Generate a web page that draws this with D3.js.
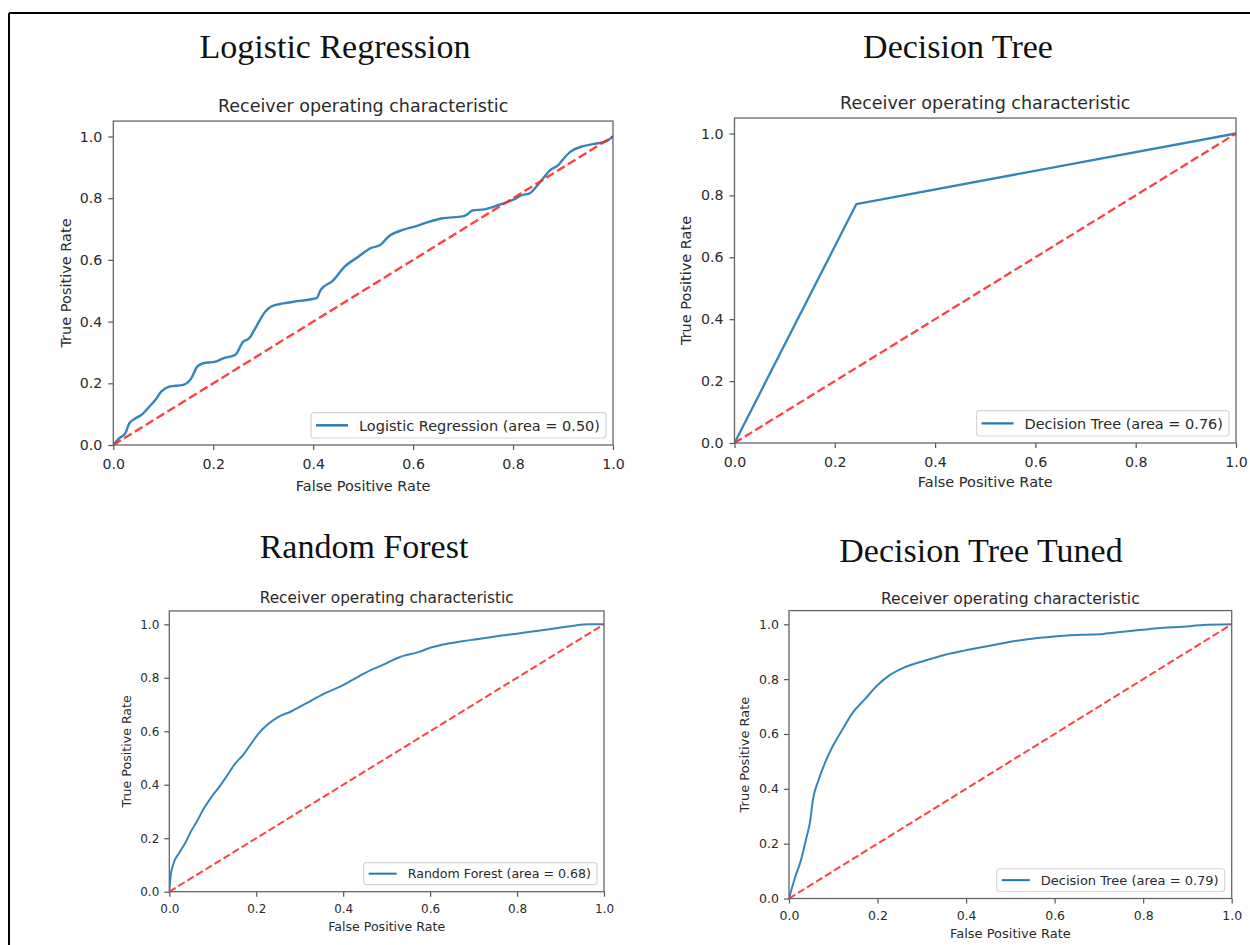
<!DOCTYPE html>
<html>
<head>
<meta charset="utf-8">
<script src="https://cdn.jsdelivr.net/npm/d3@7"></script>
<style>
  html, body { margin: 0; padding: 0; background: #fff; }
  svg { display: block; }
</style>
</head>
<body>
<svg id="chart" width="1250" height="945"></svg>
<script>
// ---------------- DATA ----------------
const panelTitles = ["Logistic Regression", "Decision Tree", "Random Forest", "Decision Tree Tuned"];
const subTitle = "Receiver operating characteristic";
const xAxisLabel = "False Positive Rate";
const yAxisLabel = "True Positive Rate";
const legendLabels = [
  "Logistic Regression (area = 0.50)",
  "Decision Tree (area = 0.76)",
  "Random Forest (area = 0.68)",
  "Decision Tree (area = 0.79)"
];
const tickValues = [0, 0.2, 0.4, 0.6, 0.8, 1.0];
const diagonalFpr = [0, 1];
const diagonalTpr = [0, 1];

// Logistic Regression ROC
const lrFpr = [0, 0.012, 0.024, 0.032, 0.044, 0.056, 0.072, 0.084, 0.096, 0.112, 0.14, 0.156, 0.168, 0.18, 0.204, 0.22, 0.244, 0.26, 0.272, 0.284, 0.304, 0.316, 0.34, 0.372, 0.407, 0.415, 0.439, 0.463, 0.491, 0.515, 0.535, 0.551, 0.579, 0.603, 0.627, 0.659, 0.699, 0.707, 0.719, 0.743, 0.771, 0.803, 0.819, 0.831, 0.847, 0.863, 0.875, 0.891, 0.899, 0.915, 0.939, 0.963, 0.986, 1.0];
const lrTpr = [0, 0.022, 0.038, 0.07, 0.086, 0.097, 0.124, 0.146, 0.173, 0.189, 0.195, 0.216, 0.254, 0.265, 0.27, 0.281, 0.292, 0.335, 0.346, 0.378, 0.432, 0.449, 0.459, 0.467, 0.476, 0.503, 0.532, 0.578, 0.611, 0.638, 0.649, 0.676, 0.697, 0.708, 0.721, 0.735, 0.741, 0.746, 0.76, 0.764, 0.778, 0.797, 0.811, 0.814, 0.838, 0.87, 0.892, 0.908, 0.924, 0.951, 0.968, 0.976, 0.984, 1.0];

// Decision Tree ROC
const dtFpr = [0, 0.243, 1.0];
const dtTpr = [0, 0.772, 1.0];

// Random Forest ROC
const rfFpr = [0, 0.003, 0.009, 0.023, 0.037, 0.05, 0.064, 0.078, 0.096, 0.115, 0.133, 0.151, 0.17, 0.188, 0.206, 0.229, 0.252, 0.28, 0.317, 0.353, 0.39, 0.417, 0.454, 0.491, 0.528, 0.573, 0.606, 0.638, 0.674, 0.711, 0.757, 0.803, 0.849, 0.894, 0.931, 0.963, 1.0];
const rfTpr = [0, 0.058, 0.102, 0.146, 0.183, 0.226, 0.264, 0.307, 0.352, 0.392, 0.434, 0.478, 0.512, 0.553, 0.593, 0.629, 0.655, 0.674, 0.706, 0.738, 0.765, 0.788, 0.821, 0.848, 0.876, 0.896, 0.915, 0.927, 0.937, 0.945, 0.956, 0.966, 0.976, 0.986, 0.995, 1.0, 1.0];

// Decision Tree Tuned ROC
const dttFpr = [0, 0.013, 0.027, 0.04, 0.047, 0.054, 0.067, 0.081, 0.099, 0.121, 0.144, 0.171, 0.198, 0.225, 0.261, 0.306, 0.351, 0.396, 0.441, 0.486, 0.531, 0.576, 0.62, 0.665, 0.71, 0.755, 0.8, 0.845, 0.89, 0.935, 1.0];
const dttTpr = [0, 0.073, 0.14, 0.226, 0.275, 0.36, 0.433, 0.494, 0.556, 0.617, 0.678, 0.726, 0.775, 0.812, 0.843, 0.867, 0.888, 0.904, 0.918, 0.932, 0.944, 0.952, 0.958, 0.962, 0.965, 0.973, 0.98, 0.987, 0.991, 0.997, 1.0];

const seriesFpr = [lrFpr, dtFpr, rfFpr, dttFpr];
const seriesTpr = [lrTpr, dtTpr, rfTpr, dttTpr];

// ---------------- LAYOUT ----------------
const panels = [
  { left: 113.3, right: 613, y0: 445, y1: 136.5, titleX: 335, titleY: 58, fs: 14.2, subFs: 17.5, labFs: 14.5, subGap: 9, xTickBase: 24.5, xLabBase: 46, yLabOff: 42, yTickPad: 6, legLine: 32, lw: 2.4, smooth: true },
  { left: 734.5, right: 1236, y0: 443, y1: 133.5, titleX: 958, titleY: 58, fs: 14.2, subFs: 17.5, labFs: 14.5, subGap: 9, xTickBase: 24, xLabBase: 44, yLabOff: 44, yTickPad: 6, legLine: 32, lw: 2.3, smooth: false },
  { left: 169.3, right: 604, y0: 891.7, y1: 624.3, titleX: 364, titleY: 558, fs: 12, subFs: 15.3, labFs: 12.6, subGap: 8, xTickBase: 21, xLabBase: 39.5, yLabOff: 38.5, yTickPad: 5, legLine: 28, lw: 2.0, smooth: true },
  { left: 789, right: 1231.7, y0: 898.5, y1: 624.3, titleX: 981, titleY: 562, fs: 12.5, subFs: 15.6, labFs: 13, subGap: 7, xTickBase: 21.5, xLabBase: 39.5, yLabOff: 40, yTickPad: 5, legLine: 28, lw: 2.0, smooth: true }
];

const svg = d3.select("#chart");
svg.append("rect").attr("width", 1250).attr("height", 945).attr("fill", "#fff");

// outer border (top and left)
svg.append("line").attr("x1", 9).attr("x2", 1250).attr("y1", 13).attr("y2", 13).attr("stroke", "#000").attr("stroke-width", 2);
svg.append("line").attr("x1", 9).attr("x2", 9).attr("y1", 13).attr("y2", 945).attr("stroke", "#000").attr("stroke-width", 2);

const sans = "'DejaVu Sans', sans-serif";
const serif = "'Liberation Serif', 'DejaVu Serif', serif";
const textColor = "#2a2a2a";

panels.forEach((p, i) => {
  const unit = p.y0 - p.y1;
  const top = p.y0 - 1.05 * unit;
  const x = d3.scaleLinear().domain([0, 1]).range([p.left, p.right]);
  const y = d3.scaleLinear().domain([0, 1.05]).range([p.y0, top]);
  const g = svg.append("g");

  // Big serif title
  g.append("text").attr("x", p.titleX).attr("y", p.titleY)
    .attr("text-anchor", "middle").attr("font-family", serif).attr("font-size", 34)
    .attr("fill", "#111").text(panelTitles[i]);

  // subtitle
  g.append("text").attr("x", (p.left + p.right) / 2).attr("y", top - p.subGap)
    .attr("text-anchor", "middle").attr("font-family", sans).attr("font-size", p.subFs)
    .attr("fill", textColor).text(subTitle);

  // axes
  const xAxis = d3.axisBottom(x).tickValues(tickValues).tickFormat(d3.format(".1f"))
    .tickSize(5).tickSizeOuter(0).tickPadding(p.xTickBase - 5 - 0.72 * p.fs);
  const yAxis = d3.axisLeft(y).tickValues(tickValues).tickFormat(d3.format(".1f"))
    .tickSize(5).tickSizeOuter(0).tickPadding(p.yTickPad);

  const gx = g.append("g").attr("transform", `translate(0,${p.y0})`).call(xAxis);
  const gy = g.append("g").attr("transform", `translate(${p.left},0)`).call(yAxis);
  [gx, gy].forEach(a => {
    a.select(".domain").remove();
    a.selectAll(".tick line").attr("stroke", "#555").attr("stroke-width", 1.2);
    a.selectAll(".tick text").attr("font-family", sans).attr("font-size", p.fs).attr("fill", textColor);
  });

  // clip
  const clipId = "clip" + i;
  svg.append("clipPath").attr("id", clipId).append("rect")
    .attr("x", p.left).attr("y", top).attr("width", p.right - p.left).attr("height", p.y0 - top);

  const line = d3.line().x(d => x(d[0])).y(d => y(d[1]));
  const curveLine = d3.line().x(d => x(d[0])).y(d => y(d[1]))
    .curve(p.smooth ? d3.curveMonotoneX : d3.curveLinear);
  const pts = seriesFpr[i].map((v, k) => [v, seriesTpr[i][k]]);
  g.append("path").datum(pts).attr("d", curveLine).attr("fill", "none")
    .attr("stroke", "#1f77b4").attr("stroke-width", p.lw).attr("stroke-linejoin", "round")
    .attr("stroke-linecap", "round").attr("clip-path", `url(#${clipId})`).attr("opacity", 0.9);

  const diag = diagonalFpr.map((v, k) => [v, diagonalTpr[k]]);
  g.append("path").datum(diag).attr("d", line).attr("fill", "none")
    .attr("stroke", "#ff2020").attr("stroke-width", p.lw).attr("opacity", 0.85)
    .attr("stroke-dasharray", `${3.7 * p.lw},${1.6 * p.lw}`);

  // frame
  g.append("rect").attr("x", p.left).attr("y", top).attr("width", p.right - p.left).attr("height", p.y0 - top)
    .attr("fill", "none").attr("stroke", "#666").attr("stroke-width", 1.3);

  // axis labels
  g.append("text").attr("x", (p.left + p.right) / 2).attr("y", p.y0 + p.xLabBase)
    .attr("text-anchor", "middle").attr("font-family", sans).attr("font-size", p.labFs)
    .attr("fill", textColor).text(xAxisLabel);
  g.append("text").attr("transform", `translate(${p.left - p.yLabOff},${(p.y0 + top) / 2}) rotate(-90)`)
    .attr("text-anchor", "middle").attr("font-family", sans).attr("font-size", p.labFs)
    .attr("fill", textColor).text(yAxisLabel);

  // legend
  const leg = g.append("g");
  const lt = leg.append("text").attr("font-family", sans).attr("font-size", p.labFs)
    .attr("fill", textColor).text(legendLabels[i]);
  const tw = lt.node().getComputedTextLength();
  const padR = 6, gap = 11, padL = 5;
  const boxH = p.labFs * 1.75;
  const boxRight = p.right - 7;
  const boxBottom = p.y0 - 7;
  const boxW = padL + p.legLine + gap + tw + padR;
  const boxLeft = boxRight - boxW;
  const boxTop = boxBottom - boxH;
  leg.insert("rect", "text").attr("x", boxLeft).attr("y", boxTop).attr("width", boxW).attr("height", boxH)
    .attr("rx", 3).attr("fill", "#fff").attr("fill-opacity", 0.85).attr("stroke", "#d6d6d6").attr("stroke-width", 1.2);
  const cy = boxTop + boxH / 2;
  leg.append("line").attr("x1", boxLeft + padL).attr("x2", boxLeft + padL + p.legLine)
    .attr("y1", cy).attr("y2", cy).attr("stroke", "#1f77b4").attr("stroke-width", p.lw);
  lt.attr("x", boxLeft + padL + p.legLine + gap).attr("y", cy + 0.36 * p.labFs);
});
</script>
</body>
</html>
